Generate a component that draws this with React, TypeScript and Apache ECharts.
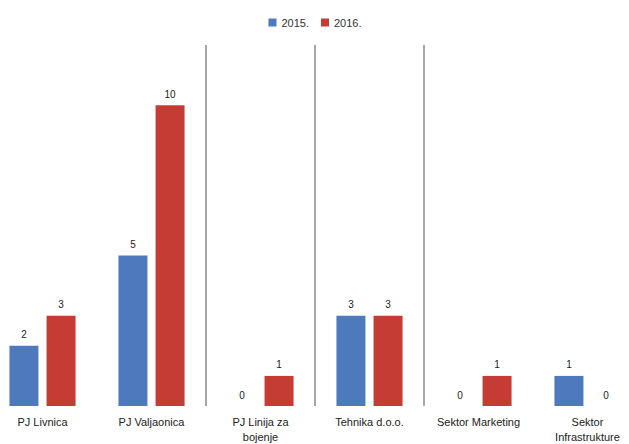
import React, { useEffect, useRef } from "react";
import * as echarts from "echarts";

const categories = [
  "PJ Livnica",
  "PJ Valjaonica",
  "PJ Linija za\nbojenje",
  "Tehnika d.o.o.",
  "Sektor Marketing",
  "Sektor\nInfrastrukture",
];
const seriesNames = ["2015.", "2016."];
const values2015 = [2, 5, 0, 3, 0, 1];
const values2016 = [3, 10, 1, 3, 1, 0];
const separatorIndices = [2, 3, 4];

export default function App() {
  const ref = useRef<HTMLDivElement>(null);
  useEffect(() => {
    if (!ref.current) return;
    const chart = echarts.init(ref.current, undefined, { renderer: "svg" });
    const label = {
      show: true,
      position: "top" as const,
      distance: 6,
      color: "#222",
      fontSize: 10,
      fontFamily: "Liberation Sans",
    };
    chart.setOption({
      animation: false,
      backgroundColor: "#ffffff",
      legend: {
        top: 12,
        left: "center",
        itemWidth: 8,
        itemHeight: 8,
        itemGap: 12,
        icon: "rect",
        textStyle: { color: "#333", fontSize: 11, fontFamily: "Liberation Sans" },
        data: seriesNames,
      },
      grid: { left: 0, right: 0, top: 45, bottom: 38, containLabel: false },
      xAxis: {
        type: "category",
        data: categories,
        axisLine: { show: false },
        axisTick: { show: false },
        axisLabel: {
          color: "#222",
          fontSize: 11,
          fontFamily: "Liberation Sans",
          margin: 8,
          interval: 0,
          lineHeight: 15,
        },
        splitLine: {
          show: true,
          interval: (index: number) => separatorIndices.includes(index),
          lineStyle: { color: "#a6a6a6", width: 2 },
        },
      },
      yAxis: {
        type: "value",
        min: 0,
        max: 12,
        interval: 2,
        show: false,
        splitLine: { show: false },
      },
      series: [
        {
          name: seriesNames[0],
          type: "bar",
          data: values2015,
          barWidth: 29,
          barGap: "28%",
          itemStyle: { color: "#4e79bd" },
          label,
        },
        {
          name: seriesNames[1],
          type: "bar",
          data: values2016,
          barWidth: 29,
          itemStyle: { color: "#c43c33" },
          label,
        },
      ],
    });
    return () => chart.dispose();
  }, []);
  return (
    <div
      style={{
        position: "fixed",
        left: 0,
        top: 0,
        width: 629,
        height: 444,
        overflow: "hidden",
        background: "#fff",
      }}
    >
      <div
        ref={ref}
        style={{ position: "absolute", left: -12, top: 0, width: 654, height: 444 }}
      />
    </div>
  );
}
